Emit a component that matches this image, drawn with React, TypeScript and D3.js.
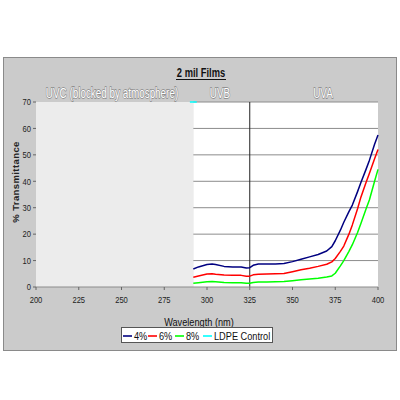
import * as d3 from 'd3';
import type { ReactNode } from 'react';

// Wavelength (nm) sample points shared by the three film series
const wavelengths = [292, 295, 300, 303, 305, 310, 315, 320, 323, 325, 327, 330, 335, 340, 345, 350, 355, 360, 365, 370, 373, 375, 378, 380, 383, 385, 388, 390, 393, 395, 398, 400];
const film4 = [6.8, 7.6, 8.5, 8.7, 8.5, 7.8, 7.6, 7.6, 7.2, 7.3, 8.2, 8.7, 8.7, 8.7, 8.9, 9.6, 10.5, 11.4, 12.3, 13.6, 15.3, 17.5, 21.5, 24.5, 28.5, 31, 36, 39.5, 44.5, 48, 54, 57.5];
const film6 = [3.7, 4.2, 4.9, 5.0, 4.8, 4.5, 4.4, 4.4, 4.1, 4.1, 4.6, 4.8, 4.9, 5.0, 5.1, 5.8, 6.5, 7.1, 7.8, 8.6, 9.5, 10.8, 13.5, 15.5, 20, 23.5, 29.5, 34, 39.5, 43, 48.5, 52];
const film8 = [1.4, 1.6, 2.0, 2.1, 2.0, 1.7, 1.6, 1.6, 1.4, 1.4, 1.7, 1.9, 1.9, 2.0, 2.1, 2.4, 2.7, 3.0, 3.3, 3.8, 4.2, 5.2, 8.0, 10.0, 13.5, 16, 20.5, 24, 29.5, 33, 40, 44.5];
// LDPE control sits above the axis range; only a sliver shows at the top
const ldpeWavelengths = [290, 294];
const ldpeValues = [70, 70];

const seriesNames = ['4%', '6%', '8%', 'LDPE Control'];
const seriesColors = ['#000080', '#ff0000', '#00ff00', '#00ffff'];

const xTicks = [200, 225, 250, 275, 300, 325, 350, 375, 400];
const yTicks = [0, 10, 20, 30, 40, 50, 60, 70];

const bandLabels = ['UVC (blocked by atmosphere)', 'UVB', 'UVA'];
const bandCenters = [112, 220, 323];

const sans = '"Liberation Sans", Arial, sans-serif';

// Liberation Sans squeezed horizontally to stand in for Arial Narrow
function Narrow({ x, y, size, anchor = 'start', sx = 0.8, weight = 'normal', fill = '#111', stroke, children }: {
  x: number; y: number; size: number; anchor?: 'start' | 'middle' | 'end'; sx?: number;
  weight?: string; fill?: string; stroke?: string; children: ReactNode;
}) {
  return (
    <text transform={`translate(${x},${y}) scale(${sx},1)`} textAnchor={anchor} fontFamily={sans}
      fontSize={size} fontWeight={weight} fill={fill}
      stroke={stroke} strokeWidth={stroke ? 1.3 : undefined} paintOrder="stroke">{children}</text>
  );
}

export default function App() {
  const x = d3.scaleLinear().domain([200, 400]).range([36, 378]);
  const y = d3.scaleLinear().domain([0, 70]).range([287, 102]);

  const line = d3.line<[number, number]>()
    .x(d => x(d[0]))
    .y(d => y(d[1]));

  const series = [
    wavelengths.map((w, i) => [w, film4[i]] as [number, number]),
    wavelengths.map((w, i) => [w, film6[i]] as [number, number]),
    wavelengths.map((w, i) => [w, film8[i]] as [number, number]),
    ldpeWavelengths.map((w, i) => [w, ldpeValues[i]] as [number, number]),
  ];

  const shadeEnd = x(292);

  // Legend entries laid out left to right
  const legendX = [123, 148, 175, 203];

  return (
    <svg width={400} height={400} style={{ position: 'absolute', left: 0, top: 0 }}>
      <rect x={0} y={0} width={400} height={400} fill="#ffffff" />
      {/* chart frame */}
      <rect x={3.5} y={57.5} width={393} height={293} fill="#cbcbcb" stroke="#8a8a8a" />

      {/* plot area: blocked UVC region shaded, the rest white */}
      <rect x={x(200)} y={y(70)} width={shadeEnd - x(200)} height={y(0) - y(70)} fill="#ececec" />
      <rect x={shadeEnd} y={y(70)} width={x(400) - shadeEnd} height={y(0) - y(70)} fill="#ffffff" />

      {/* gridlines in the white region */}
      {yTicks.filter(t => t > 0).map(t => (
        <line key={t} x1={shadeEnd} x2={x(400)} y1={y(t)} y2={y(t)} stroke="#8c8c8c" strokeWidth={1} />
      ))}
      {/* UVB / UVA divider */}
      <line x1={x(325)} x2={x(325)} y1={y(70)} y2={y(0)} stroke="#222" strokeWidth={1} />

      {/* axes */}
      <line x1={x(200)} x2={x(400)} y1={y(0)} y2={y(0)} stroke="#8c8c8c" />
      {yTicks.map(t => (
        <g key={t}>
          <line x1={x(200) - 3} x2={x(200)} y1={y(t)} y2={y(t)} stroke="#666" />
          <Narrow x={x(200) - 5} y={y(t) + 3.3} size={9.5} anchor="end" fill="#222">{t}</Narrow>
        </g>
      ))}
      {xTicks.map(t => (
        <g key={t}>
          <line x1={x(t)} x2={x(t)} y1={y(0)} y2={y(0) + 3} stroke="#666" />
          <Narrow x={x(t)} y={303} size={9.5} anchor="middle" fill="#222">{t}</Narrow>
        </g>
      ))}

      {/* data lines */}
      {series.map((s, i) => (
        <path key={i} d={line(s) ?? ''} fill="none" stroke={seriesColors[i]} strokeWidth={1.5} strokeLinejoin="round" />
      ))}

      {/* band labels, outlined */}
      {bandLabels.map((b, i) => (
        <Narrow key={b} x={bandCenters[i]} y={98} size={15} anchor="middle" sx={0.66}
          fill="#ffffff" stroke="#858585">{b}</Narrow>
      ))}

      {/* title */}
      <Narrow x={201} y={77} size={12} anchor="middle" weight="bold" sx={0.78}>2 mil Films</Narrow>
      <line x1={176} x2={226} y1={79.5} y2={79.5} stroke="#111" strokeWidth={1.2} />

      {/* axis titles */}
      <text transform="translate(19,182) rotate(-90)" textAnchor="middle" fontFamily={sans} fontWeight="bold" fontSize={9.5} letterSpacing={0.4} fill="#222">% Transmittance</text>
      <Narrow x={199} y={326} size={11.5} anchor="middle" sx={0.8}>Wavelength (nm)</Narrow>

      {/* legend */}
      <rect x={121.5} y={327.5} width={151} height={15} fill="#ffffff" stroke="#555" />
      {seriesNames.map((name, i) => (
        <g key={name}>
          <line x1={legendX[i]} x2={legendX[i] + 9} y1={336} y2={336} stroke={seriesColors[i]} strokeWidth={1.6} />
          <Narrow x={legendX[i] + 11} y={340} size={11.5} sx={0.8}>{name}</Narrow>
        </g>
      ))}
    </svg>
  );
}
